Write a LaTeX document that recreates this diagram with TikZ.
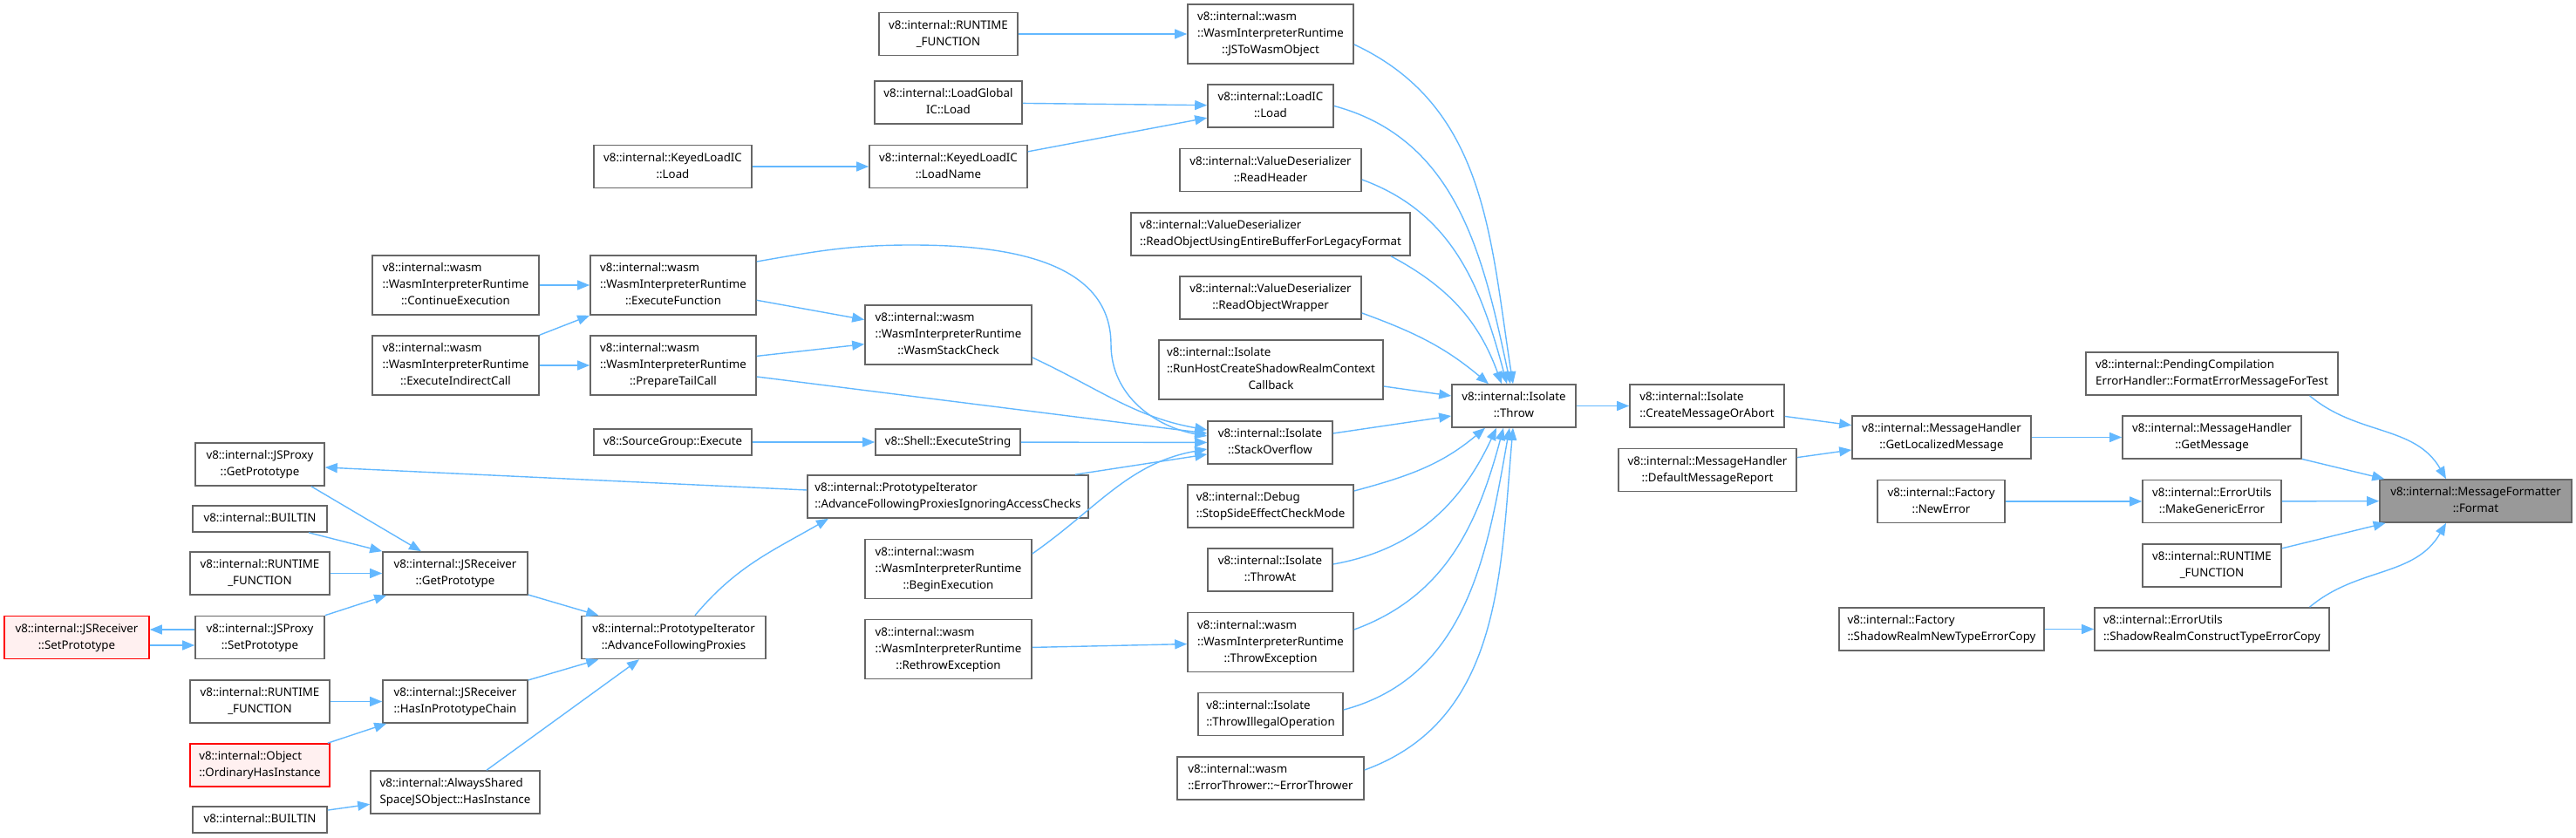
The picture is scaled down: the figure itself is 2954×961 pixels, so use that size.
\documentclass[tikz,border=0pt]{standalone}
\usepackage{fontspec}
\usepackage{xcolor}
\usetikzlibrary{arrows.meta, calc}
\newfontfamily\dxfont{Noto Sans}
\definecolor{dxBlue}{HTML}{63B8FF}
\definecolor{dxGray}{HTML}{666666}
\definecolor{dxFocus}{HTML}{999999}
\definecolor{dxRed}{HTML}{FF0000}
\definecolor{dxRedFill}{HTML}{FFF0F0}
\newcommand{\fnl}[2]{\begin{tabular}{@{}l@{}}#1\\\multicolumn{1}{@{}c@{}}{#2}\end{tabular}}
\newcommand{\fno}[1]{\begin{tabular}{@{}c@{}}#1\end{tabular}}

\begin{document}
\begin{tikzpicture}[x=0.5pt,y=-0.5pt,
  fn/.style={draw=dxGray,line width=0.8pt,fill=white,inner xsep=4pt,inner ysep=2.75pt,
    font=\dxfont\fontsize{6.65}{9.5}\selectfont},
  fnred/.style={fn,draw=dxRed,fill=dxRedFill},
  fnfocus/.style={fn,fill=dxFocus},
  call/.style={dxBlue,line width=0.7pt,-{Triangle[length=7pt,width=5.5pt]}}]
\newcommand{\callnode}[5][fn]{\node[#1,minimum width=#4pt] (#2) at (#3) {#5};}
\useasboundingbox (0,0) rectangle (2954,961);

\callnode[fnfocus]{format}{2839,574.5}{110}{\fnl{v8::internal::MessageFormatter}{::Format}}
\callnode{pending}{2536.5,428.5}{144.5}{\fnl{v8::internal::PendingCompilation}{ErrorHandler::FormatErrorMessageForTest}}
\callnode{getmsg}{2536.5,501.5}{102.5}{\fnl{v8::internal::MessageHandler}{::GetMessage}}
\callnode{mkgeneric}{2536.5,575}{79.5}{\fnl{v8::internal::ErrorUtils}{::MakeGenericError}}
\callnode{rtfR}{2536.5,648.5}{79.5}{\fnl{v8::internal::RUNTIME}{\_FUNCTION}}
\callnode{srcte}{2536.5,721.5}{134.5}{\fnl{v8::internal::ErrorUtils}{::ShadowRealmConstructTypeErrorCopy}}
\callnode{getloc}{2226.5,501.5}{102.5}{\fnl{v8::internal::MessageHandler}{::GetLocalizedMessage}}
\callnode{newerr}{2226,575}{73}{\fnl{v8::internal::Factory}{::NewError}}
\callnode{srnte}{2226.5,721.5}{117.5}{\fnl{v8::internal::Factory}{::ShadowRealmNewTypeErrorCopy}}
\callnode{createmsg}{1957.5,465.5}{88.5}{\fnl{v8::internal::Isolate}{::CreateMessageOrAbort}}
\callnode{defmsg}{1958,539}{102}{\fnl{v8::internal::MessageHandler}{::DefaultMessageReport}}
\callnode{throw}{1736,465.5}{71}{\fnl{v8::internal::Isolate}{::Throw}}

\callnode{jstowasm}{1457,39}{95}{\fnl{v8::internal::wasm\\::WasmInterpreterRuntime}{::JSToWasmObject}}
\callnode{loadic}{1457,121.5}{72}{\fnl{v8::internal::LoadIC}{::Load}}
\callnode{readheader}{1457,195}{104}{\fnl{v8::internal::ValueDeserializer}{::ReadHeader}}
\callnode{readlegacy}{1457,268.5}{160}{\fnl{v8::internal::ValueDeserializer}{::ReadObjectUsingEntireBufferForLegacyFormat}}
\callnode{readwrapper}{1457,341.5}{104}{\fnl{v8::internal::ValueDeserializer}{::ReadObjectWrapper}}
\callnode{runhost}{1457.5,424}{128.5}{\fnl{v8::internal::Isolate\\::RunHostCreateShadowRealmContext}{Callback}}
\callnode{stackov}{1456.5,507.5}{71.5}{\fnl{v8::internal::Isolate}{::StackOverflow}}
\callnode{stopside}{1457,580.5}{95}{\fnl{v8::internal::Debug}{::StopSideEffectCheckMode}}
\callnode{throwat}{1456.5,653.5}{71.5}{\fnl{v8::internal::Isolate}{::ThrowAt}}
\callnode{throwexc}{1457,736.5}{95}{\fnl{v8::internal::wasm\\::WasmInterpreterRuntime}{::ThrowException}}
\callnode{throwillegal}{1457,819}{83}{\fnl{v8::internal::Isolate}{::ThrowIllegalOperation}}
\callnode{errthrower}{1457,892.5}{107}{\fnl{v8::internal::wasm}{::ErrorThrower::\textasciitilde ErrorThrower}}

\callnode{rtfTop}{1087.5,39}{79.5}{\fnl{v8::internal::RUNTIME}{\_FUNCTION}}
\callnode{loadglobal}{1087.5,117.5}{84.5}{\fnl{v8::internal::LoadGlobal}{IC::Load}}
\callnode{loadname}{1087.5,191}{90.5}{\fnl{v8::internal::KeyedLoadIC}{::LoadName}}
\callnode{stackcheck}{1087.5,384}{95.5}{\fnl{v8::internal::wasm\\::WasmInterpreterRuntime}{::WasmStackCheck}}
\callnode{execstring}{1087,507}{83}{\fno{v8::Shell::ExecuteString}}
\callnode{afpiac}{1087,569.5}{161}{\fnl{v8::internal::PrototypeIterator}{::AdvanceFollowingProxiesIgnoringAccessChecks}}
\callnode{beginexec}{1087.5,652.5}{95.5}{\fnl{v8::internal::wasm\\::WasmInterpreterRuntime}{::BeginExecution}}
\callnode{rethrow}{1087.5,744.5}{95.5}{\fnl{v8::internal::wasm\\::WasmInterpreterRuntime}{::RethrowException}}

\callnode{keyedload}{771.5,191}{90.5}{\fnl{v8::internal::KeyedLoadIC}{::Load}}
\callnode{execfunc}{772,327}{95}{\fnl{v8::internal::wasm\\::WasmInterpreterRuntime}{::ExecuteFunction}}
\callnode{preptail}{772,419}{95}{\fnl{v8::internal::wasm\\::WasmInterpreterRuntime}{::PrepareTailCall}}
\callnode{srcgroup}{771.5,507}{90.5}{\fno{v8::SourceGroup::Execute}}
\callnode{advprox}{772.5,731}{105.5}{\fnl{v8::internal::PrototypeIterator}{::AdvanceFollowingProxies}}

\callnode{contexec}{522.5,327}{95.5}{\fnl{v8::internal::wasm\\::WasmInterpreterRuntime}{::ContinueExecution}}
\callnode{execindirect}{522.5,419}{95.5}{\fnl{v8::internal::wasm\\::WasmInterpreterRuntime}{::ExecuteIndirectCall}}
\callnode{rcvgetproto}{522,657.5}{83}{\fnl{v8::internal::JSReceiver}{::GetPrototype}}
\callnode{hasinproto}{522,804.5}{83}{\fnl{v8::internal::JSReceiver}{::HasInPrototypeChain}}
\callnode{sharedhasinst}{522,908.5}{97}{\fnl{v8::internal::AlwaysShared}{SpaceJSObject::HasInstance}}

\callnode{proxygetproto}{298,532.5}{74}{\fnl{v8::internal::JSProxy}{::GetPrototype}}
\callnode{builtinA}{298,595}{77}{\fno{v8::internal::BUILTIN}}
\callnode{rtfA}{298,657.5}{80}{\fnl{v8::internal::RUNTIME}{\_FUNCTION}}
\callnode{proxysetproto}{298,731}{74}{\fnl{v8::internal::JSProxy}{::SetPrototype}}
\callnode{rtfB}{298,804.5}{80}{\fnl{v8::internal::RUNTIME}{\_FUNCTION}}
\callnode[fnred]{ordhasinst}{298,877.5}{80}{\fnl{v8::internal::Object}{::OrdinaryHasInstance}}
\callnode{builtinB}{298,940}{77}{\fno{v8::internal::BUILTIN}}
\callnode[fnred]{rcvsetproto}{88,731}{83}{\fnl{v8::internal::JSReceiver}{::SetPrototype}}

% callers of Format
\draw[call] ([xshift=56pt]pending.south) to[out=-40,in=120] ([xshift=-17pt]format.north);
\draw[call] (getmsg) -- (format);
\draw[call] (mkgeneric) -- (format);
\draw[call] (rtfR) -- (format);
\draw[call] ([xshift=56pt]srcte.north) to[out=40,in=-120] ([xshift=-17pt]format.south);
\draw[call] (getloc) -- (getmsg);
\draw[call] (newerr) -- (mkgeneric);
\draw[call] (srnte) -- (srcte);
\draw[call] (createmsg) -- (getloc);
\draw[call] (defmsg) -- (getloc);
\draw[call] (throw) -- (createmsg);

% callers of Throw
\draw[call] ([yshift=-6pt]jstowasm.east) to[out=-25,in=99] ([xshift=-0.5pt]throw.north);
\draw[call] (loadic.east) to[out=-15,in=102] ([xshift=-2pt]throw.north);
\draw[call] ([yshift=-5.5pt]readheader.east) to[out=-20,in=105] ([xshift=-4pt]throw.north);
\draw[call] ([xshift=69pt]readlegacy.south) to[out=-28,in=110] ([xshift=-7pt]throw.north);
\draw[call] ([yshift=-8.75pt]readwrapper.east) to[out=-20,in=140] ([xshift=-14.5pt]throw.north);
\draw[call] ([yshift=-9.5pt]runhost.east) -- ([yshift=5.75pt]throw.west);
\draw[call] ([yshift=5.25pt]stackov.east) -- ([yshift=-5.75pt]throw.west);
\draw[call] ([yshift=8.75pt]stopside.east) to[out=15,in=-140] ([xshift=-16.5pt]throw.south);
\draw[call] ([yshift=3.25pt]throwat.east) to[out=10,in=-115] ([xshift=-10pt]throw.south);
\draw[call] ([yshift=7.25pt]throwexc.east) to[out=20,in=-105] ([xshift=-6pt]throw.south);
\draw[call] ([yshift=2.5pt]throwillegal.east) to[out=15,in=-100] ([xshift=-2.5pt]throw.south);
\draw[call] ([yshift=4.75pt]errthrower.east) to[out=20,in=-95] ([xshift=-0.5pt]throw.south);

% middle
\draw[call] (rtfTop) -- (jstowasm);
\draw[call] (loadglobal) -- (loadic);
\draw[call] (loadname) -- (loadic);
\draw[call] (keyedload) -- (loadname);
\coordinate (efpeak) at (1045,281);
\coordinate (efdrop) at (1274,395);
\draw[call] ([yshift=13.5pt]execfunc.east) to[out=10,in=180] (efpeak) to[out=0,in=90] (efdrop) to[out=-90,in=170] ([yshift=3.75pt]stackov.west);
\draw[call] (execfunc) -- (stackcheck);
\draw[call] (preptail) -- (stackcheck);
\draw[call] ([yshift=-6.5pt]preptail.east) -- ([yshift=5.25pt]stackov.west);
\draw[call] ([yshift=-13pt]stackcheck.east) to[out=-25,in=170] ([yshift=7.25pt]stackov.west);
\draw[call] (execstring) -- (stackov);
\draw[call] ([xshift=73pt]afpiac.north) -- ([yshift=-6.75pt]stackov.west);
\draw[call] ([yshift=8.75pt]beginexec.east) to[out=35,in=190] ([yshift=-3.75pt]stackov.west);
\draw[call] ([yshift=3.75pt]afpiac.west) -- ([yshift=-1.75pt]proxygetproto.east);
\draw[call] (rethrow) -- (throwexc);
\draw[call] (srcgroup) -- (execstring);
\draw[call] ([xshift=12.25pt]advprox.north) to[out=50,in=-150] ([xshift=-68.5pt]afpiac.south);
\draw[call] (rcvgetproto) -- (advprox);
\draw[call] (hasinproto) -- (advprox);
\draw[call] ([xshift=18pt]sharedhasinst.north) -- ([xshift=-19.75pt]advprox.south);

% left
\draw[call] ([xshift=29.5pt]proxygetproto.south) -- ([xshift=-19.5pt]rcvgetproto.north);
\draw[call] ([xshift=28pt]builtinA.south) -- (rcvgetproto.north west);
\draw[call] (rtfA) -- (rcvgetproto);
\draw[call] (proxysetproto.north east) -- ([xshift=2.5pt]rcvgetproto.south west);
\draw[call] ([yshift=4.5pt]proxysetproto.west) -- ([yshift=4.5pt]rcvsetproto.east);
\draw[call] ([yshift=-4.5pt]rcvsetproto.east) -- ([yshift=-4.5pt]proxysetproto.west);
\draw[call] (rtfB) -- (hasinproto);
\draw[call] ([xshift=-1.5pt]ordhasinst.north east) -- ([xshift=2.5pt]hasinproto.south west);
\draw[call] (builtinB) -- (sharedhasinst);
\draw[call] (contexec) -- (execfunc);
\draw[call] (execindirect.north east) -- (execfunc.south west);
\draw[call] (execindirect) -- (preptail);
\end{tikzpicture}
\end{document}
